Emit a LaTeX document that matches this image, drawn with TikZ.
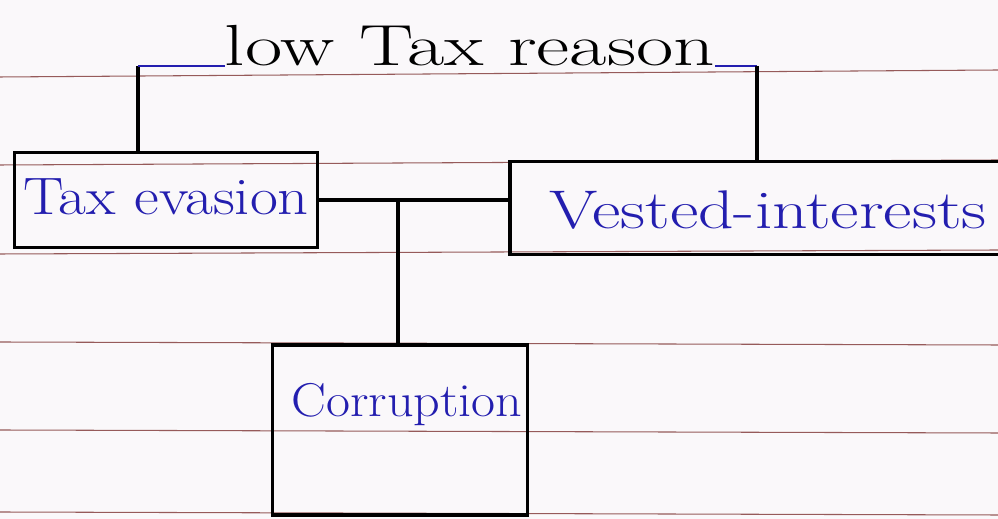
\documentclass[tikz,border=0pt]{standalone}
\usepackage{fontspec}
\usepackage{graphicx}
\begin{document}
\begin{tikzpicture}[x=0.02cm,y=-0.02cm,
  rule/.style={draw=rulecol,line width=0.6pt},
  boxline/.style={draw=black,line width=2pt},
  handtext/.style={text=inkblue,inner sep=0pt},
  titletext/.style={text=black,inner sep=0pt},
  link/.style={draw=black,line width=1.8pt},
  bluelink/.style={draw=inkblue,line width=1.4pt}]
\definecolor{rulecol}{RGB}{150,90,90}
\definecolor{inkblue}{RGB}{35,30,175}
\definecolor{paper}{RGB}{250,248,250}
\useasboundingbox (0,0) rectangle (998,519);
\fill[paper] (0,0) rectangle (998,519);
% ruled paper lines
\draw[rule] (0,77) -- (998,70);
\draw[rule] (0,165) -- (998,160);
\draw[rule] (0,254) -- (998,250);
\draw[rule] (0,342) -- (998,345);
\draw[rule] (0,430) -- (998,433);
\draw[rule] (0,512) -- (998,515);
% boxes
\node[boxline,minimum width=6.06cm,minimum height=1.9cm,inner sep=0pt] (te) at (166,200) {};
\node[handtext,font=\fontsize{30}{34}\selectfont] (tet) at (166,197) {\scalebox{1.15}[1]{Tax evasion}};
\node[boxline,minimum width=10.0cm,minimum height=1.86cm,inner sep=0pt] (vi) at (760,208) {};
\node[handtext,font=\fontsize{31}{34}\selectfont] (vit) at (768,210) {\scalebox{1.28}[1]{Vested-interests}};
\node[boxline,minimum width=5.1cm,minimum height=3.4cm,inner sep=0pt] (cor) at (400,430) {};
\node[handtext,font=\fontsize{27}{30}\selectfont] (cort) at (407,405) {\scalebox{1.1}[1]{Corruption}};
% title
\node[titletext,font=\fontsize{33}{36}\selectfont] (title) at (470,46) {\scalebox{1.4}[1]{low Tax reason}};
% bracket
\coordinate (bl) at (138,66);
\coordinate (br) at (757,66);
\draw[link] (bl |- te.north) -- (bl);
\draw[bluelink] (bl) -- (bl -| title.west);
\draw[bluelink] (br -| title.east) -- (br);
\draw[link] (br) -- (br |- vi.north);
% connectors
\coordinate (j) at (398,200);
\draw[link] (te.east) -- (te.east -| vi.west);
\draw[link] (j) -- (j |- cor.north);
\end{tikzpicture}
\end{document}
